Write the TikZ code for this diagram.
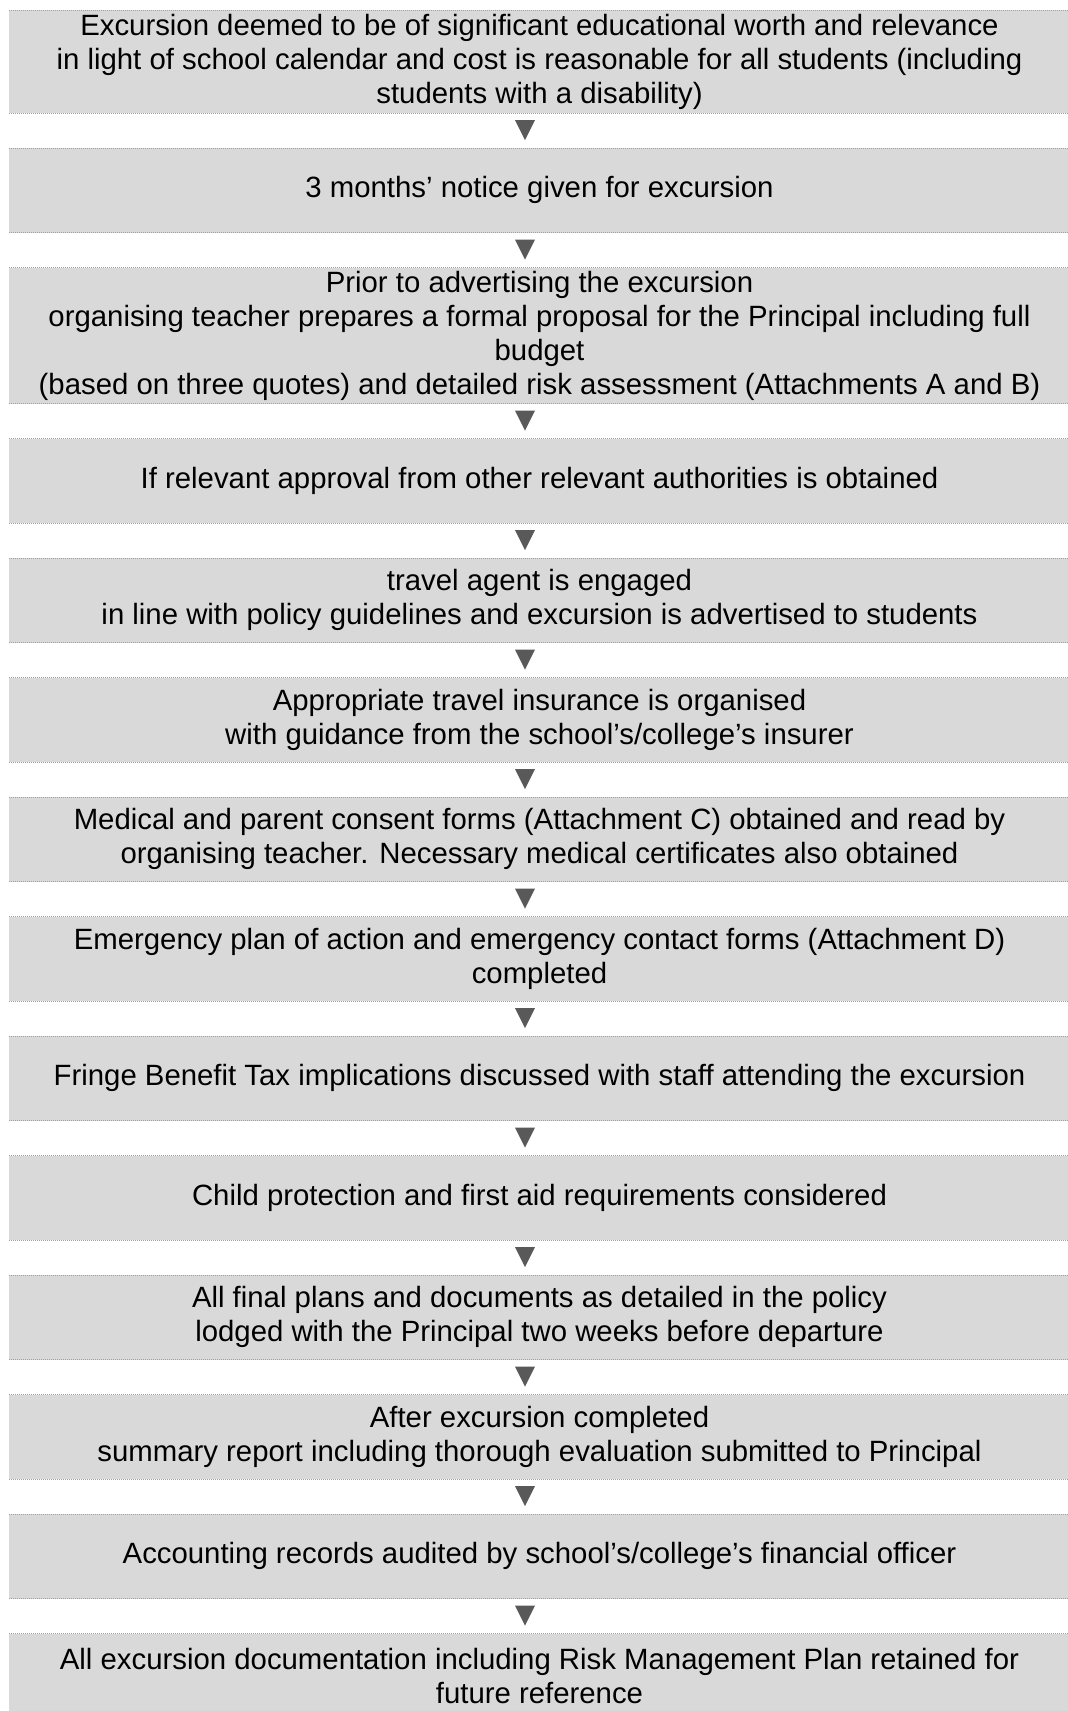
\documentclass[tikz,border=0pt]{standalone}
\usepackage{fontspec}
\setmainfont{Liberation Sans}
\usepackage{tikz}
\usetikzlibrary{positioning,calc,shapes.geometric}

\definecolor{boxgray}{HTML}{D9D9D9}
\definecolor{edgegray}{HTML}{A0A0A0}
\definecolor{arrowgray}{HTML}{595959}

\begin{document}
\begin{tikzpicture}[
    node distance=0.7cm,
    stepbox/.style={rectangle, fill=boxgray, minimum width=21.22cm, minimum height=1.69cm, inner xsep=0pt, inner ysep=0.05cm, outer sep=0pt, align=center, font=\fontsize{16.7}{19.35}\selectfont},
    edge/.style={draw=edgegray, line width=0.02cm, dash pattern=on 0.02cm off 0.02cm},
    downarrow/.style={isosceles triangle, isosceles triangle stretches, shape border rotate=-90, fill=arrowgray, minimum width=0.4cm, minimum height=0.4cm, inner sep=0pt, outer sep=0pt, anchor=apex}
]

\clip (0,0) rectangle (21.36,-34.22);

% Steps
\node[stepbox, minimum height=2.06cm, anchor=north] (worth) at (10.79,-0.2) {Excursion deemed to be of significant educational worth and relevance\\in light of school calendar and cost is reasonable for all students (including\\students with a disability)};
\node[stepbox, below=of worth] (notice) {3 months’ notice given for excursion};
\node[stepbox, minimum height=2.72cm, below=of notice] (proposal) {Prior to advertising the excursion\\organising teacher prepares a formal proposal for the Principal including full\\budget\\(based on three quotes) and detailed risk assessment (Attachments A and B)};
\node[stepbox, below=of proposal] (approval) {If relevant approval from other relevant authorities is obtained};
\node[stepbox, below=of approval] (agent) {travel agent is engaged\\in line with policy guidelines and excursion is advertised to students};
\node[stepbox, below=of agent] (insurance) {Appropriate travel insurance is organised\\with guidance from the school’s/college’s insurer};
\node[stepbox, below=of insurance] (consent) {Medical and parent consent forms (Attachment C) obtained and read by\\organising teacher. Necessary medical certificates also obtained};
\node[stepbox, below=of consent] (emergency) {Emergency plan of action and emergency contact forms (Attachment D)\\completed};
\node[stepbox, below=of emergency] (fbt) {Fringe Benefit Tax implications discussed with staff attending the excursion};
\node[stepbox, below=of fbt] (childprot) {Child protection and first aid requirements considered};
\node[stepbox, below=of childprot] (lodged) {All final plans and documents as detailed in the policy\\lodged with the Principal two weeks before departure};
\node[stepbox, below=of lodged] (report) {After excursion completed\\summary report including thorough evaluation submitted to Principal};
\node[stepbox, below=of report] (audit) {Accounting records audited by school’s/college’s financial officer};
\node[stepbox, below=of audit] (retained) {All excursion documentation including Risk Management Plan retained for\\future reference};

% Dotted top and bottom edges
\foreach \b in {worth,notice,proposal,approval,agent,insurance,consent,emergency,fbt,childprot,lodged,report,audit,retained}
    \draw[edge] (\b.north west) -- (\b.north east) (\b.south west) -- (\b.south east);

% Arrows between steps
\node[downarrow] (a1) at ($(worth.south)!0.5!(notice.north) + (-0.29,-0.19)$) {};
\node[downarrow] (a2) at ($(notice.south)!0.5!(proposal.north) + (-0.29,-0.19)$) {};
\node[downarrow] (a3) at ($(proposal.south)!0.5!(approval.north) + (-0.29,-0.19)$) {};
\node[downarrow] (a4) at ($(approval.south)!0.5!(agent.north) + (-0.29,-0.19)$) {};
\node[downarrow] (a5) at ($(agent.south)!0.5!(insurance.north) + (-0.29,-0.19)$) {};
\node[downarrow] (a6) at ($(insurance.south)!0.5!(consent.north) + (-0.29,-0.19)$) {};
\node[downarrow] (a7) at ($(consent.south)!0.5!(emergency.north) + (-0.29,-0.19)$) {};
\node[downarrow] (a8) at ($(emergency.south)!0.5!(fbt.north) + (-0.29,-0.19)$) {};
\node[downarrow] (a9) at ($(fbt.south)!0.5!(childprot.north) + (-0.29,-0.19)$) {};
\node[downarrow] (a10) at ($(childprot.south)!0.5!(lodged.north) + (-0.29,-0.19)$) {};
\node[downarrow] (a11) at ($(lodged.south)!0.5!(report.north) + (-0.29,-0.19)$) {};
\node[downarrow] (a12) at ($(report.south)!0.5!(audit.north) + (-0.29,-0.19)$) {};
\node[downarrow] (a13) at ($(audit.south)!0.5!(retained.north) + (-0.29,-0.19)$) {};

\end{tikzpicture}
\end{document}
